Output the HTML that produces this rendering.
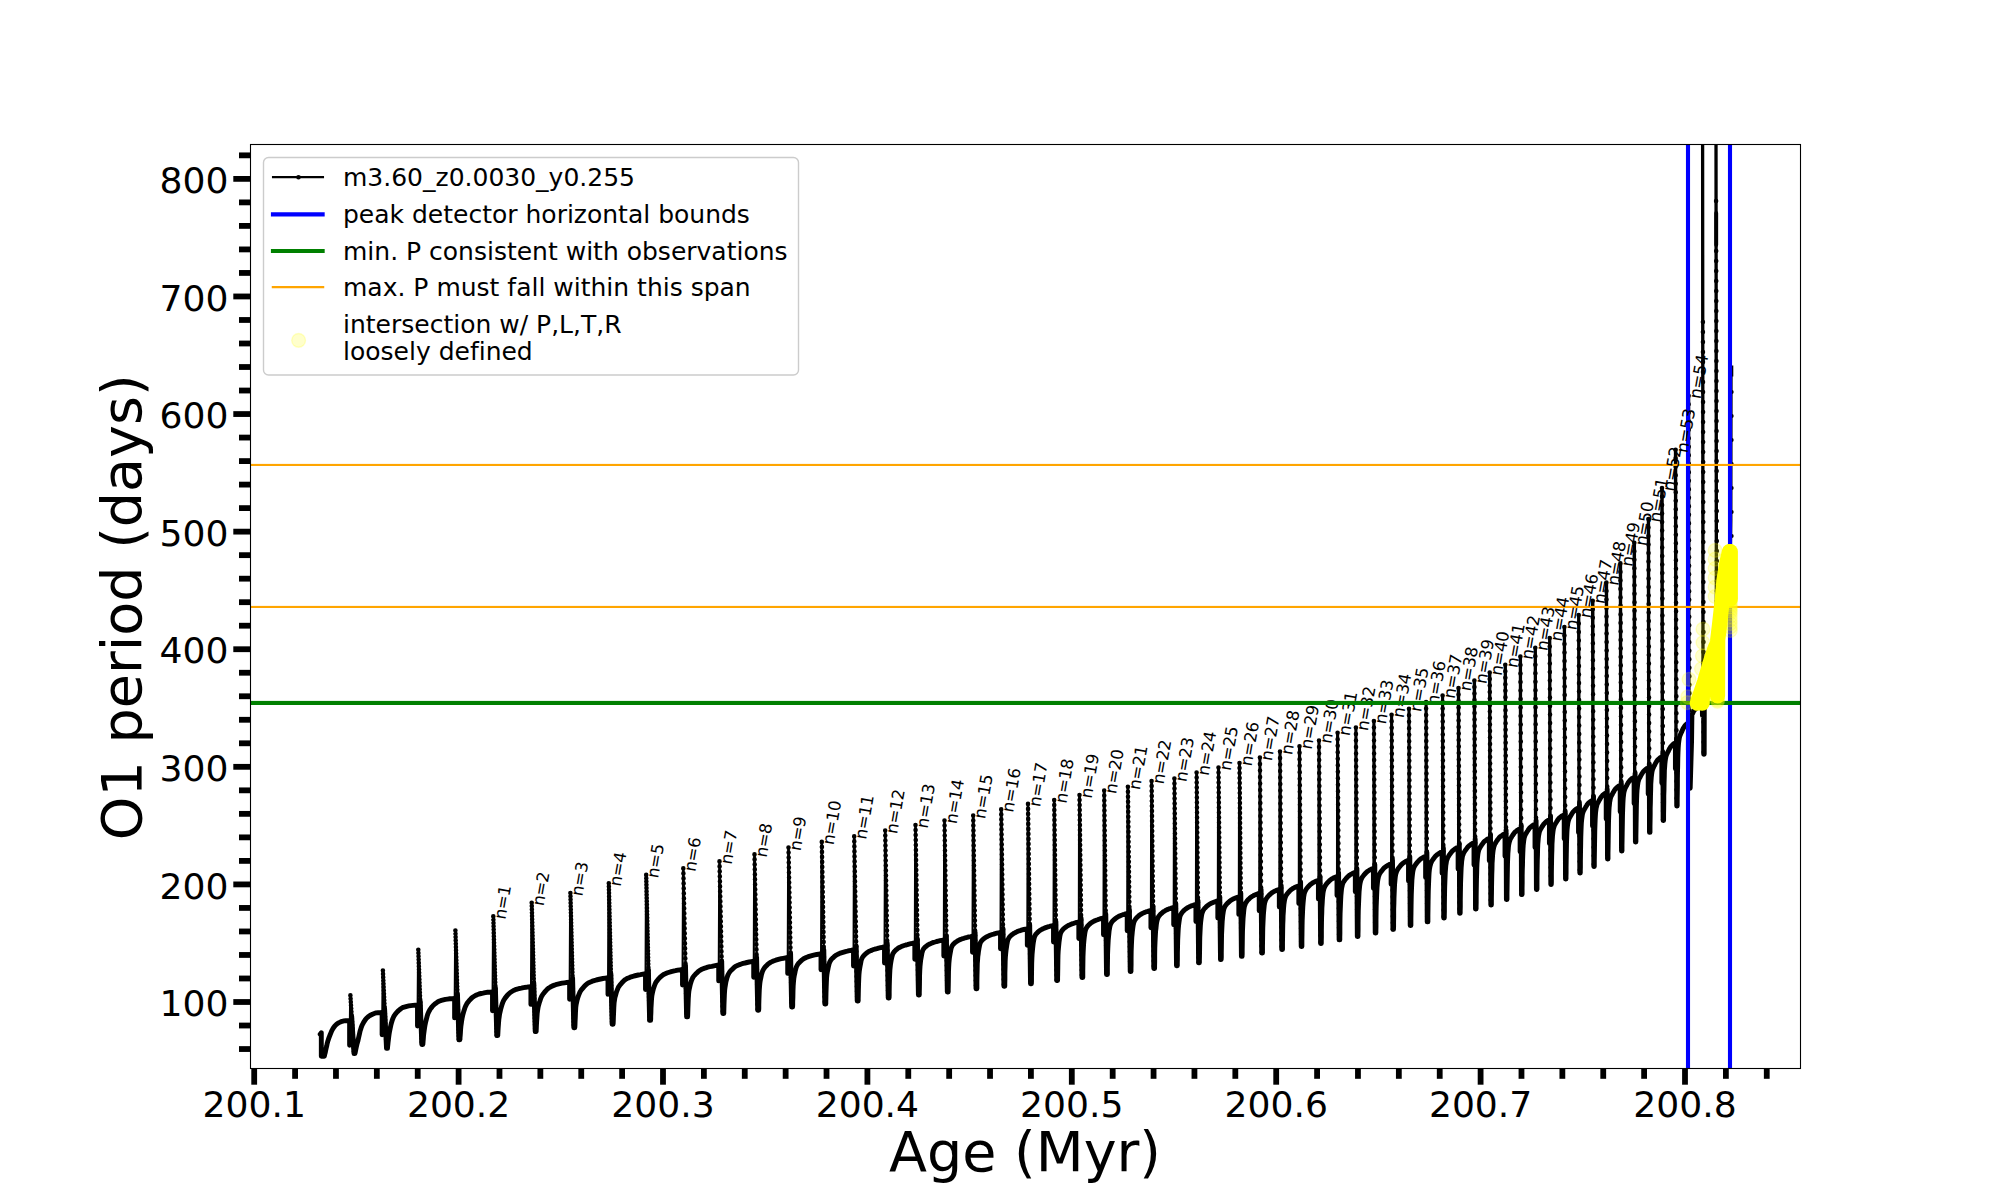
<!DOCTYPE html>
<html lang="en"><head><meta charset="utf-8"><title>O1 period vs Age</title>
<style>html,body{margin:0;padding:0;background:#fff}svg{display:block}text{font-variant-ligatures:none}</style></head>
<body>
<svg width="2000" height="1200" viewBox="0 0 2000 1200" font-family="'DejaVu Sans','Liberation Sans',sans-serif" fill="#000">
<rect width="2000" height="1200" fill="#fff"/>
<defs><clipPath id="ax"><rect x="250" y="144" width="1550" height="924"/></clipPath></defs>
<g clip-path="url(#ax)">
<path d="M320.2 1034.2 L321.3 1032.8 L321.3 1056.3 L324.3 1056.3 L324.3 1056.3 L324.3 1056.1 L324.4 1055.9 L324.5 1055.5 L324.6 1054.9 L324.8 1054.1 L325.1 1053 L325.4 1051.8 L325.7 1050.3 L326.1 1048.5 L326.6 1046.4 L327.1 1043.9 L327.7 1041.6 L328.4 1039.4 L329.1 1037.4 L329.9 1035.3 L330.8 1033.1 L331.7 1030.9 L332.8 1028.9 L333.9 1027.2 L335 1025.7 L336.3 1024.5 L337.7 1023.4 L339.1 1022.6 L340.6 1021.9 L342.2 1021.3 L343.9 1020.9 L345.7 1020.7 L347.6 1020.6 L349.6 1020.5 L349.6 1020.5 L349.6 1045.2 M351.7 1016.5 L354 1053.5 L355 1053.5 L355 1053.5 L355 1053.3 L355.1 1052.9 L355.2 1052.4 L355.4 1051.6 L355.6 1050.6 L355.8 1049.4 L356.1 1047.9 L356.5 1046.2 L356.9 1044.4 L357.4 1042.6 L358 1040.5 L358.6 1037.8 L359.4 1034.2 L360.1 1031 L361 1028.2 L361.9 1025.7 L363 1023.5 L364.1 1021.6 L365.2 1019.9 L366.5 1018.3 L367.9 1017 L369.3 1015.9 L370.9 1015 L372.5 1014.2 L374.2 1013.5 L376 1012.9 L378 1012.7 L380 1012.6 L382.1 1012.5 L382.1 1012.5 L382.1 1034.8 M384.6 1008.5 L386.5 1048.4 L387.5 1048.4 L387.5 1048.3 L387.5 1047.9 L387.6 1047.1 L387.7 1045.9 L387.9 1044.2 L388.1 1042.1 L388.4 1039.7 L388.7 1037.1 L389.1 1034.2 L389.6 1031.2 L390.2 1028.2 L390.8 1025.4 L391.5 1022.7 L392.3 1020 L393.2 1017.8 L394.1 1015.9 L395.2 1014.3 L396.3 1012.9 L397.5 1011.6 L398.8 1010.4 L400.2 1009.3 L401.7 1008.1 L403.3 1007.3 L405.1 1006.8 L406.9 1006.3 L408.8 1005.9 L410.8 1005.6 L412.9 1005.4 L415.2 1005.2 L417.5 1005.2 L417.5 1005.2 L417.5 1026 M420.2 1001.2 L421.8 1044.5 L422.8 1044.5 L422.8 1044.4 L422.9 1043.9 L423 1042.8 L423.1 1041.2 L423.3 1039 L423.5 1036.2 L423.8 1033.3 L424.2 1030.5 L424.6 1027.6 L425.1 1024.7 L425.7 1021.8 L426.4 1019.1 L427.1 1016.3 L427.9 1013.7 L428.9 1011.5 L429.9 1009.7 L431 1008.1 L432.2 1006.6 L433.5 1005.2 L434.8 1004 L436.3 1002.9 L437.9 1001.8 L439.6 1001 L441.4 1000.4 L443.4 999.9 L445.4 999.4 L447.5 999.1 L449.8 998.8 L452.1 998.6 L454.6 998.5 L454.6 998.5 L454.6 1017.9 M457.5 994.5 L458.9 1039.8 L459.9 1039.8 L459.9 1039.6 L460 1039 L460 1037.7 L460.2 1035.7 L460.4 1033 L460.6 1029.6 L460.9 1026.2 L461.3 1023.3 L461.7 1020.5 L462.2 1017.6 L462.8 1014.9 L463.5 1012.3 L464.3 1009.7 L465.1 1007.2 L466.1 1005.1 L467.1 1003.3 L468.3 1001.7 L469.5 1000.2 L470.8 998.9 L472.2 997.6 L473.8 996.5 L475.4 995.5 L477.1 994.7 L479 994 L481 993.5 L483 993.1 L485.2 992.6 L487.5 992.3 L490 992.1 L492.5 991.9 L492.5 991.9 L492.5 1010.7 M495.4 987.9 L496.8 1035.6 L497.8 1035.6 L497.8 1035.4 L497.8 1034.7 L497.9 1033.1 L498 1030.8 L498.2 1027.6 L498.5 1023.6 L498.8 1019.7 L499.2 1016.8 L499.6 1014 L500.2 1011.4 L500.8 1008.8 L501.5 1006.4 L502.2 1004 L503.1 1001.7 L504.1 999.7 L505.1 998.1 L506.3 996.6 L507.5 995.1 L508.9 993.8 L510.3 992.5 L511.9 991.5 L513.5 990.5 L515.3 989.7 L517.2 989.1 L519.2 988.5 L521.3 988.1 L523.5 987.6 L525.9 987.3 L528.3 986.9 L530.9 986.7 L530.9 986.7 L530.9 1004.4 M533.8 982.7 L535.2 1031.5 L536.2 1031.5 L536.2 1031.3 L536.2 1030.4 L536.3 1028.7 L536.4 1026 L536.6 1022.4 L536.9 1017.8 L537.2 1013.3 L537.6 1010.4 L538 1007.8 L538.5 1005.5 L539.2 1003.1 L539.9 1001 L540.6 998.7 L541.5 996.6 L542.5 994.9 L543.6 993.4 L544.7 992 L546 990.6 L547.3 989.2 L548.8 988 L550.4 987 L552 986.1 L553.8 985.4 L555.7 984.7 L557.8 984.2 L559.9 983.7 L562.1 983.2 L564.5 982.8 L567 982.4 L569.6 982.1 L569.6 982.1 L569.6 999.2 M572.6 978.1 L573.8 1027.7 L574.8 1027.7 L574.8 1027.5 L574.9 1026.5 L575 1024.5 L575.1 1021.4 L575.3 1017.4 L575.5 1012.1 L575.8 1007.3 L576.2 1004.3 L576.7 1001.9 L577.2 999.8 L577.8 997.6 L578.5 995.7 L579.3 993.7 L580.1 991.8 L581.1 990.2 L582.2 988.9 L583.3 987.6 L584.5 986.2 L585.9 984.8 L587.3 983.6 L588.9 982.7 L590.6 981.9 L592.3 981.2 L594.2 980.6 L596.2 980 L598.3 979.5 L600.6 979 L602.9 978.5 L605.4 978.1 L608 977.7 L608 977.7 L608 994.4 M610.9 973.7 L612.1 1024.2 L613.1 1024.2 L613.1 1023.9 L613.2 1022.9 L613.3 1020.7 L613.4 1017.3 L613.6 1013 L613.8 1007.8 L614.1 1003 L614.5 1000.1 L614.9 997.6 L615.5 995.5 L616.1 993.3 L616.7 991.3 L617.5 989.3 L618.3 987.4 L619.3 985.9 L620.3 984.6 L621.4 983.3 L622.6 982 L623.9 980.7 L625.4 979.5 L626.9 978.6 L628.5 977.9 L630.2 977.2 L632.1 976.6 L634 976 L636.1 975.5 L638.3 975 L640.5 974.6 L642.9 974.1 L645.5 973.8 L645.5 973.8 L645.5 989.6 M648.4 969.8 L649.6 1020.4 L650.6 1020.4 L650.6 1020.1 L650.7 1019 L650.7 1016.6 L650.9 1012.9 L651 1008.2 L651.3 1003.1 L651.6 998.4 L651.9 995.5 L652.4 993 L652.9 990.8 L653.5 988.5 L654.2 986.5 L654.9 984.5 L655.7 982.7 L656.7 981.2 L657.7 979.9 L658.8 978.7 L660 977.4 L661.3 976.2 L662.7 975.1 L664.2 974.2 L665.8 973.5 L667.5 972.8 L669.3 972.2 L671.2 971.6 L673.3 971.1 L675.4 970.7 L677.7 970.2 L680 969.8 L682.5 969.4 L682.5 969.4 L682.5 985.1 M685.5 965.4 L686.6 1016.9 L687.6 1016.9 L687.6 1016.6 L687.7 1015.3 L687.8 1012.7 L687.9 1008.7 L688.1 1003.7 L688.3 998.5 L688.6 994 L688.9 991 L689.4 988.4 L689.9 986.2 L690.4 983.9 L691.1 981.7 L691.8 979.7 L692.6 977.9 L693.5 976.5 L694.5 975.3 L695.6 974.1 L696.8 972.9 L698 971.7 L699.4 970.6 L700.8 969.8 L702.4 969 L704.1 968.4 L705.8 967.8 L707.7 967.2 L709.7 966.7 L711.8 966.3 L714 965.8 L716.3 965.4 L718.7 965 L718.7 965 L718.7 980.9 M721.7 961 L722.8 1013.5 L723.8 1013.5 L723.8 1013.2 L723.8 1011.8 L723.9 1009 L724 1004.7 L724.2 999.4 L724.4 994.3 L724.7 989.9 L725.1 986.8 L725.5 984.3 L725.9 982 L726.5 979.6 L727.1 977.4 L727.8 975.4 L728.6 973.7 L729.5 972.3 L730.4 971.1 L731.5 970 L732.6 968.9 L733.8 967.7 L735.1 966.7 L736.5 965.9 L738 965.2 L739.6 964.6 L741.3 964 L743.1 963.4 L745 963 L747 962.5 L749.2 962 L751.4 961.6 L753.7 961.2 L753.7 961.2 L753.7 977.2 M756.6 957.2 L757.7 1010.3 L758.7 1010.3 L758.7 1010 L758.8 1008.5 L758.8 1005.5 L758.9 1000.9 L759.1 995.2 L759.3 990.1 L759.6 985.9 L759.9 982.8 L760.3 980.2 L760.8 977.9 L761.3 975.5 L761.9 973.2 L762.6 971.1 L763.4 969.5 L764.2 968.2 L765.1 967 L766.1 966 L767.2 964.9 L768.4 963.8 L769.7 962.9 L771 962.1 L772.5 961.4 L774.1 960.8 L775.7 960.2 L777.5 959.7 L779.3 959.2 L781.3 958.7 L783.3 958.3 L785.5 957.9 L787.7 957.5 L787.7 957.5 L787.7 973.4 M790.6 953.5 L791.6 1007 L792.6 1007 L792.6 1006.6 L792.7 1005.1 L792.7 1001.9 L792.9 996.9 L793 990.9 L793.2 985.9 L793.5 981.8 L793.8 978.7 L794.2 976.1 L794.7 973.8 L795.2 971.2 L795.8 968.9 L796.4 966.8 L797.2 965.3 L798 964 L798.9 962.9 L799.9 961.9 L801 960.9 L802.1 959.9 L803.3 959 L804.7 958.2 L806.1 957.5 L807.6 956.9 L809.2 956.4 L810.9 955.9 L812.7 955.4 L814.7 954.9 L816.7 954.5 L818.8 954.1 L821 953.8 L821 953.8 L821 969.8 M823.8 949.8 L824.8 1004 L825.8 1004 L825.8 1003.6 L825.8 1002 L825.9 998.5 L826 993.2 L826.2 986.8 L826.4 981.8 L826.6 977.8 L826.9 974.7 L827.3 972.1 L827.8 969.7 L828.3 967.1 L828.9 964.6 L829.5 962.6 L830.2 961.1 L831 959.9 L831.9 958.8 L832.9 957.9 L833.9 956.9 L835 956 L836.3 955.1 L837.6 954.4 L839 953.7 L840.4 953.1 L842 952.6 L843.7 952.1 L845.4 951.6 L847.3 951.2 L849.3 950.7 L851.3 950.3 L853.5 950 L853.5 950 L853.5 966.1 M856.2 946 L857.2 1001 L858.2 1001 L858.2 1000.6 L858.2 998.9 L858.3 995.3 L858.4 989.6 L858.6 982.9 L858.8 978 L859 974.2 L859.3 971.1 L859.7 968.5 L860.1 966.1 L860.6 963.5 L861.1 960.9 L861.7 958.9 L862.4 957.5 L863.2 956.3 L864 955.4 L864.9 954.5 L865.9 953.6 L867 952.7 L868.1 951.9 L869.4 951.2 L870.7 950.6 L872.1 950.1 L873.6 949.5 L875.2 949 L876.9 948.6 L878.6 948.1 L880.5 947.7 L882.4 947.3 L884.5 947 L884.5 947 L884.5 963 M887.2 943 L888.2 998 L889.1 998 L889.1 997.6 L889.2 995.7 L889.2 991.9 L889.3 985.8 L889.5 978.7 L889.7 973.8 L889.9 970.1 L890.2 967 L890.5 964.3 L890.9 961.9 L891.4 959.1 L892 956.5 L892.6 954.4 L893.2 953.1 L894 952 L894.8 951.1 L895.7 950.2 L896.6 949.4 L897.7 948.6 L898.8 947.8 L900 947.2 L901.3 946.6 L902.7 946 L904.1 945.5 L905.7 945 L907.3 944.6 L909 944.1 L910.8 943.7 L912.7 943.3 L914.8 943 L914.8 943 L914.8 959.2 M917.4 939 L918.4 995 L919.3 995 L919.3 994.6 L919.3 992.6 L919.4 988.6 L919.5 982.3 L919.6 974.8 L919.8 970 L920 966.5 L920.3 963.4 L920.6 960.7 L921 958.3 L921.5 955.5 L922 952.8 L922.6 950.8 L923.2 949.5 L923.9 948.4 L924.7 947.6 L925.5 946.8 L926.5 946 L927.5 945.3 L928.5 944.6 L929.7 944 L930.9 943.5 L932.2 942.9 L933.6 942.4 L935.1 942 L936.6 941.5 L938.3 941.1 L940 940.7 L941.8 940.3 L943.8 940 L943.8 940 L943.8 956 M946.4 936 L947.3 992 L948.2 992 L948.2 991.5 L948.2 989.6 L948.3 985.5 L948.4 979.2 L948.5 971.7 L948.7 966.9 L948.9 963.3 L949.2 960.1 L949.5 957.3 L949.9 954.8 L950.4 952 L950.9 949.3 L951.5 947.2 L952.1 945.9 L952.8 944.9 L953.6 944 L954.4 943.2 L955.3 942.4 L956.3 941.7 L957.4 941 L958.5 940.4 L959.7 939.8 L961 939.2 L962.4 938.7 L963.9 938.3 L965.4 937.8 L967.1 937.4 L968.8 936.9 L970.6 936.6 L972.5 936.2 L972.5 936.2 L972.5 952.3 M975.1 932.2 L976 988.8 L976.9 988.8 L976.9 988.3 L976.9 986.3 L976.9 982.3 L977 976 L977.2 968.5 L977.3 963.6 L977.6 960 L977.8 956.7 L978.2 953.8 L978.5 951.3 L979 948.4 L979.5 945.7 L980 943.6 L980.6 942.3 L981.3 941.2 L982.1 940.3 L982.9 939.5 L983.8 938.7 L984.8 938 L985.8 937.3 L986.9 936.7 L988.1 936.1 L989.4 935.5 L990.7 935 L992.1 934.5 L993.6 934.1 L995.2 933.6 L996.9 933.2 L998.7 932.8 L1000.5 932.5 L1000.5 932.5 L1000.5 948.8 M1003 928.5 L1003.9 986.2 L1004.8 986.2 L1004.8 985.8 L1004.8 983.8 L1004.9 979.7 L1004.9 973.3 L1005.1 965.7 L1005.2 960.8 L1005.4 957.1 L1005.7 953.6 L1006 950.7 L1006.4 948 L1006.8 945.1 L1007.3 942.3 L1007.8 940.2 L1008.4 938.8 L1009 937.7 L1009.7 936.8 L1010.5 936 L1011.4 935.2 L1012.3 934.4 L1013.3 933.7 L1014.3 933.1 L1015.5 932.5 L1016.7 931.9 L1017.9 931.3 L1019.3 930.8 L1020.7 930.4 L1022.2 929.9 L1023.8 929.5 L1025.5 929.1 L1027.3 928.8 L1027.3 928.8 L1027.3 945.2 M1029.7 924.8 L1030.5 983.8 L1031.4 983.8 L1031.4 983.3 L1031.5 981.3 L1031.5 977.2 L1031.6 970.8 L1031.7 963.2 L1031.9 958.2 L1032.1 954.4 L1032.4 950.8 L1032.7 947.8 L1033 945 L1033.4 942 L1033.9 939.3 L1034.4 937.1 L1035 935.8 L1035.6 934.6 L1036.3 933.7 L1037.1 932.9 L1037.9 932.1 L1038.8 931.3 L1039.8 930.6 L1040.8 929.9 L1041.9 929.3 L1043.1 928.7 L1044.4 928.1 L1045.7 927.6 L1047.1 927.1 L1048.6 926.7 L1050.1 926.2 L1051.8 925.8 L1053.5 925.5 L1053.5 925.5 L1053.5 942 M1055.9 921.5 L1056.7 980.5 L1057.6 980.5 L1057.6 980 L1057.6 978.1 L1057.7 974 L1057.8 967.6 L1057.9 960 L1058 955 L1058.2 951.2 L1058.5 947.6 L1058.8 944.5 L1059.1 941.6 L1059.5 938.7 L1059.9 935.9 L1060.4 933.7 L1061 932.3 L1061.6 931.2 L1062.3 930.3 L1063 929.4 L1063.8 928.6 L1064.7 927.9 L1065.6 927.2 L1066.6 926.5 L1067.7 925.8 L1068.8 925.2 L1070 924.7 L1071.3 924.1 L1072.6 923.7 L1074 923.2 L1075.5 922.7 L1077.1 922.3 L1078.8 922 L1078.8 922 L1078.8 938.6 M1081.1 918 L1081.9 977.5 L1082.8 977.5 L1082.8 977 L1082.8 975.1 L1082.8 970.9 L1082.9 964.5 L1083 956.9 L1083.2 951.8 L1083.4 947.9 L1083.6 944.2 L1083.9 940.9 L1084.2 938 L1084.6 935 L1085 932.2 L1085.5 930 L1086.1 928.6 L1086.7 927.4 L1087.3 926.5 L1088.1 925.6 L1088.8 924.8 L1089.7 924 L1090.6 923.3 L1091.6 922.6 L1092.6 921.9 L1093.7 921.3 L1094.9 920.7 L1096.1 920.2 L1097.5 919.7 L1098.8 919.2 L1100.3 918.7 L1101.9 918.3 L1103.5 918 L1103.5 918 L1103.5 934.8 M1105.8 914 L1106.5 974.5 L1107.4 974.5 L1107.4 974 L1107.4 972 L1107.4 967.8 L1107.5 961.3 L1107.6 953.6 L1107.8 948.4 L1108 944.3 L1108.2 940.5 L1108.5 937.1 L1108.8 934 L1109.1 930.9 L1109.6 928.1 L1110 925.9 L1110.5 924.4 L1111.1 923.2 L1111.7 922.2 L1112.4 921.3 L1113.2 920.5 L1114 919.7 L1114.9 919 L1115.8 918.3 L1116.8 917.6 L1117.8 916.9 L1119 916.3 L1120.2 915.7 L1121.4 915.2 L1122.8 914.7 L1124.2 914.3 L1125.6 913.8 L1127.2 913.5 L1127.2 913.5 L1127.2 930.7 M1129.4 909.5 L1130.2 971.5 L1131 971.5 L1131 971 L1131 969 L1131.1 964.9 L1131.1 958.5 L1131.2 950.8 L1131.4 945.6 L1131.6 941.5 L1131.8 937.6 L1132.1 934.2 L1132.4 931.1 L1132.8 928 L1133.2 925.1 L1133.7 922.9 L1134.2 921.5 L1134.7 920.3 L1135.4 919.3 L1136.1 918.4 L1136.8 917.5 L1137.6 916.8 L1138.5 916 L1139.4 915.3 L1140.4 914.6 L1141.5 913.9 L1142.6 913.3 L1143.8 912.8 L1145.1 912.2 L1146.4 911.7 L1147.8 911.3 L1149.3 910.8 L1150.9 910.5 L1150.9 910.5 L1150.9 927.7 M1153.1 906.5 L1153.8 968.5 L1154.6 968.5 L1154.6 968 L1154.6 966.1 L1154.7 962 L1154.7 955.6 L1154.8 948 L1155 942.8 L1155.2 938.7 L1155.4 934.8 L1155.6 931.3 L1156 928.1 L1156.3 925 L1156.7 922.2 L1157.2 920 L1157.7 918.5 L1158.2 917.3 L1158.8 916.3 L1159.5 915.4 L1160.2 914.6 L1161 913.8 L1161.8 913.1 L1162.7 912.3 L1163.7 911.6 L1164.7 911 L1165.8 910.3 L1166.9 909.8 L1168.1 909.2 L1169.4 908.7 L1170.8 908.3 L1172.2 907.8 L1173.7 907.5 L1173.7 907.5 L1173.7 924.7 M1175.8 903.5 L1176.5 965.7 L1177.3 965.7 L1177.3 965.2 L1177.3 963.3 L1177.4 959.2 L1177.4 952.9 L1177.6 945.3 L1177.7 940.2 L1177.9 936 L1178.1 932 L1178.3 928.4 L1178.6 925.2 L1179 922.1 L1179.4 919.3 L1179.8 917.1 L1180.3 915.6 L1180.8 914.4 L1181.4 913.4 L1182.1 912.5 L1182.8 911.7 L1183.5 910.9 L1184.3 910.1 L1185.2 909.4 L1186.1 908.7 L1187.1 908 L1188.2 907.4 L1189.3 906.8 L1190.5 906.3 L1191.7 905.7 L1193.1 905.3 L1194.4 904.8 L1195.9 904.5 L1195.9 904.5 L1195.9 921.6 M1198 900.5 L1198.6 962.8 L1199.4 962.8 L1199.4 962.3 L1199.4 960.4 L1199.5 956.3 L1199.6 950 L1199.7 942.4 L1199.8 937.2 L1200 933 L1200.2 928.9 L1200.4 925.2 L1200.7 921.9 L1201.1 918.8 L1201.5 915.9 L1201.9 913.7 L1202.4 912.2 L1202.9 911 L1203.5 909.9 L1204.1 909 L1204.8 908.2 L1205.6 907.4 L1206.4 906.6 L1207.2 905.9 L1208.1 905.2 L1209.1 904.5 L1210.2 903.8 L1211.3 903.2 L1212.5 902.7 L1213.7 902.2 L1215 901.7 L1216.4 901.2 L1217.8 900.9 L1217.8 900.9 L1217.8 918.1 M1219.8 896.9 L1220.5 959.6 L1221.2 959.6 L1221.2 959.1 L1221.3 957.2 L1221.3 953.1 L1221.4 946.8 L1221.5 939.2 L1221.6 933.9 L1221.8 929.6 L1222 925.4 L1222.2 921.6 L1222.5 918.3 L1222.8 915.1 L1223.2 912.3 L1223.6 910 L1224 908.5 L1224.6 907.2 L1225.1 906.2 L1225.7 905.3 L1226.4 904.4 L1227.1 903.6 L1227.9 902.9 L1228.7 902.1 L1229.6 901.3 L1230.5 900.6 L1231.5 899.9 L1232.6 899.3 L1233.7 898.8 L1234.9 898.3 L1236.1 897.8 L1237.4 897.3 L1238.8 897 L1238.8 897 L1238.8 914.4 M1240.8 893 L1241.4 956.4 L1242.1 956.4 L1242.1 955.9 L1242.2 954 L1242.2 949.9 L1242.3 943.6 L1242.4 936.1 L1242.5 930.8 L1242.7 926.4 L1242.9 922.2 L1243.1 918.3 L1243.4 914.8 L1243.7 911.6 L1244 908.8 L1244.4 906.6 L1244.9 905 L1245.4 903.7 L1245.9 902.7 L1246.5 901.8 L1247.1 900.9 L1247.8 900.1 L1248.6 899.3 L1249.4 898.6 L1250.2 897.8 L1251.2 897.1 L1252.1 896.4 L1253.2 895.8 L1254.2 895.2 L1255.4 894.7 L1256.6 894.2 L1257.9 893.7 L1259.2 893.4 L1259.2 893.4 L1259.2 910.8 M1261.1 889.4 L1261.7 953 L1262.5 953 L1262.5 952.6 L1262.5 950.6 L1262.5 946.6 L1262.6 940.3 L1262.7 932.7 L1262.8 927.4 L1263 923 L1263.2 918.6 L1263.4 914.7 L1263.7 911.1 L1264 907.9 L1264.3 905.1 L1264.7 902.8 L1265.2 901.2 L1265.6 900 L1266.2 898.9 L1266.8 898 L1267.4 897.1 L1268.1 896.3 L1268.8 895.5 L1269.6 894.7 L1270.5 894 L1271.4 893.2 L1272.3 892.5 L1273.3 891.9 L1274.4 891.3 L1275.6 890.8 L1276.7 890.3 L1278 889.8 L1279.3 889.5 L1279.3 889.5 L1279.3 907 M1281.2 885.5 L1281.7 949.5 L1282.5 949.5 L1282.5 949.1 L1282.5 947.1 L1282.5 943.1 L1282.6 936.9 L1282.7 929.5 L1282.8 924.2 L1283 919.7 L1283.1 915.3 L1283.4 911.3 L1283.6 907.7 L1283.9 904.5 L1284.3 901.7 L1284.7 899.4 L1285.1 897.8 L1285.6 896.5 L1286.1 895.5 L1286.7 894.5 L1287.3 893.7 L1287.9 892.9 L1288.7 892.1 L1289.4 891.3 L1290.2 890.5 L1291.1 889.7 L1292.1 889 L1293 888.4 L1294.1 887.8 L1295.2 887.3 L1296.3 886.8 L1297.6 886.3 L1298.8 886 L1298.8 886 L1298.8 903.5 M1300.6 882 L1301.2 946.5 L1301.9 946.5 L1301.9 946 L1301.9 944.1 L1301.9 940 L1302 933.6 L1302.1 925.9 L1302.2 920.4 L1302.4 915.7 L1302.6 911.1 L1302.8 906.9 L1303.1 903.1 L1303.4 899.7 L1303.7 896.8 L1304.1 894.5 L1304.5 892.8 L1305 891.5 L1305.5 890.4 L1306.1 889.4 L1306.7 888.5 L1307.4 887.7 L1308.1 886.9 L1308.9 886 L1309.7 885.2 L1310.6 884.4 L1311.5 883.7 L1312.5 883 L1313.6 882.4 L1314.7 881.8 L1315.9 881.3 L1317.1 880.8 L1318.4 880.5 L1318.4 880.5 L1318.4 899 M1320.1 876.5 L1320.6 943.5 L1321.3 943.5 L1321.3 943 L1321.3 941.1 L1321.4 936.9 L1321.4 930.5 L1321.5 922.8 L1321.6 917.3 L1321.8 912.5 L1321.9 907.8 L1322.2 903.4 L1322.4 899.5 L1322.7 896.1 L1323 893.2 L1323.4 890.9 L1323.8 889.2 L1324.3 887.8 L1324.8 886.7 L1325.3 885.7 L1325.9 884.8 L1326.5 883.9 L1327.2 883.1 L1328 882.3 L1328.8 881.4 L1329.6 880.6 L1330.5 879.8 L1331.4 879.2 L1332.4 878.6 L1333.5 878 L1334.6 877.4 L1335.8 876.9 L1337 876.6 L1337 876.6 L1337 895.5 M1338.6 872.6 L1339.1 939.9 L1339.8 939.9 L1339.8 939.4 L1339.8 937.5 L1339.9 933.4 L1339.9 927 L1340 919.3 L1340.1 913.7 L1340.3 908.9 L1340.5 904 L1340.7 899.5 L1340.9 895.6 L1341.2 892.2 L1341.5 889.2 L1341.9 886.9 L1342.3 885.1 L1342.7 883.7 L1343.2 882.6 L1343.8 881.6 L1344.4 880.7 L1345 879.8 L1345.7 879 L1346.4 878.2 L1347.2 877.3 L1348 876.5 L1348.9 875.7 L1349.8 875 L1350.8 874.4 L1351.9 873.8 L1353 873.2 L1354.1 872.7 L1355.3 872.4 L1355.3 872.4 L1355.3 891.8 M1356.9 868.4 L1357.3 936.6 L1358 936.6 L1358 936.1 L1358 934.2 L1358.1 930.1 L1358.1 923.7 L1358.2 916 L1358.3 910.4 L1358.5 905.5 L1358.7 900.6 L1358.9 896 L1359.1 891.9 L1359.4 888.5 L1359.7 885.5 L1360.1 883.1 L1360.5 881.4 L1360.9 880 L1361.4 878.9 L1361.9 877.8 L1362.5 876.9 L1363.1 876.1 L1363.8 875.2 L1364.5 874.4 L1365.3 873.5 L1366.1 872.6 L1367 871.8 L1367.9 871.1 L1368.9 870.5 L1369.9 869.9 L1371 869.3 L1372.2 868.8 L1373.4 868.5 L1373.4 868.5 L1373.4 888.3 M1374.8 864.5 L1375.2 933 L1375.9 933 L1375.9 932.5 L1375.9 930.6 L1376 926.5 L1376 920.1 L1376.1 912.4 L1376.2 906.8 L1376.4 901.7 L1376.6 896.7 L1376.8 891.9 L1377 887.8 L1377.3 884.3 L1377.6 881.3 L1378 878.9 L1378.4 877.1 L1378.8 875.7 L1379.3 874.5 L1379.8 873.5 L1380.4 872.6 L1381 871.7 L1381.7 870.9 L1382.4 870 L1383.1 869.1 L1383.9 868.2 L1384.8 867.4 L1385.7 866.7 L1386.7 866 L1387.7 865.4 L1388.8 864.8 L1389.9 864.3 L1391.1 864 L1391.1 864 L1391.1 884.3 M1392.5 860 L1392.9 929.4 L1393.5 929.4 L1393.5 928.9 L1393.6 927 L1393.6 923 L1393.7 916.6 L1393.7 909 L1393.9 903.4 L1394 898.3 L1394.2 893.2 L1394.4 888.4 L1394.6 884.2 L1394.9 880.7 L1395.2 877.8 L1395.5 875.4 L1395.9 873.6 L1396.4 872.2 L1396.8 871 L1397.4 870 L1397.9 869 L1398.5 868.2 L1399.2 867.3 L1399.9 866.4 L1400.6 865.5 L1401.4 864.6 L1402.3 863.8 L1403.2 863.1 L1404.2 862.4 L1405.2 861.8 L1406.2 861.2 L1407.3 860.7 L1408.5 860.4 L1408.5 860.4 L1408.5 880.9 M1409.8 856.4 L1410.2 925.5 L1410.9 925.5 L1410.9 925.1 L1410.9 923.1 L1410.9 919.1 L1411 912.9 L1411.1 905.4 L1411.2 899.8 L1411.3 894.6 L1411.5 889.5 L1411.7 884.6 L1411.9 880.4 L1412.2 876.9 L1412.5 874 L1412.8 871.6 L1413.2 869.8 L1413.6 868.3 L1414.1 867.1 L1414.6 866.1 L1415.2 865.2 L1415.8 864.3 L1416.4 863.5 L1417.1 862.6 L1417.9 861.7 L1418.7 860.8 L1419.5 859.9 L1420.4 859.2 L1421.3 858.5 L1422.3 857.9 L1423.4 857.3 L1424.5 856.8 L1425.6 856.5 L1425.6 856.5 L1425.6 877.4 M1426.9 852.5 L1427.2 921.9 L1427.9 921.9 L1427.9 921.5 L1427.9 919.5 L1427.9 915.5 L1428 909.3 L1428.1 901.8 L1428.2 896.1 L1428.3 890.9 L1428.5 885.6 L1428.7 880.6 L1428.9 876.2 L1429.1 872.7 L1429.4 869.7 L1429.8 867.3 L1430.2 865.5 L1430.6 864 L1431 862.8 L1431.5 861.8 L1432.1 860.8 L1432.6 860 L1433.3 859.1 L1433.9 858.2 L1434.6 857.3 L1435.4 856.3 L1436.2 855.5 L1437.1 854.7 L1438 854.1 L1439 853.4 L1440 852.8 L1441 852.3 L1442.1 852 L1442.1 852 L1442.1 873.3 M1443.4 848 L1443.7 918 L1444.3 918 L1444.3 917.6 L1444.3 915.6 L1444.4 911.7 L1444.4 905.4 L1444.5 897.9 L1444.6 892.2 L1444.7 886.9 L1444.9 881.5 L1445.1 876.4 L1445.3 872 L1445.6 868.4 L1445.8 865.5 L1446.2 863 L1446.5 861.2 L1446.9 859.7 L1447.4 858.5 L1447.8 857.4 L1448.4 856.5 L1448.9 855.6 L1449.5 854.7 L1450.2 853.8 L1450.9 852.8 L1451.6 851.9 L1452.4 851 L1453.2 850.3 L1454.1 849.6 L1455 848.9 L1456 848.3 L1457 847.8 L1458.1 847.5 L1458.1 847.5 L1458.1 869 M1459.3 843.5 L1459.6 913.3 L1460.2 913.3 L1460.2 912.9 L1460.2 911 L1460.3 907 L1460.3 900.9 L1460.4 893.5 L1460.5 887.9 L1460.6 882.5 L1460.8 877.1 L1461 872 L1461.2 867.4 L1461.5 863.9 L1461.7 861 L1462.1 858.6 L1462.4 856.7 L1462.8 855.2 L1463.3 854 L1463.7 852.9 L1464.3 852 L1464.8 851.1 L1465.4 850.3 L1466.1 849.3 L1466.8 848.4 L1467.5 847.4 L1468.3 846.5 L1469.1 845.8 L1470 845.1 L1470.9 844.4 L1471.9 843.8 L1472.9 843.3 L1474 843 L1474 843 L1474 864.9 M1475.2 839 L1475.5 909 L1476.1 909 L1476.1 908.6 L1476.1 906.7 L1476.2 902.8 L1476.2 896.7 L1476.3 889.4 L1476.4 883.7 L1476.5 878.4 L1476.7 872.9 L1476.8 867.6 L1477 863.1 L1477.3 859.5 L1477.6 856.6 L1477.9 854.2 L1478.2 852.3 L1478.6 850.8 L1479 849.6 L1479.5 848.5 L1480 847.6 L1480.5 846.7 L1481.1 845.8 L1481.7 844.9 L1482.4 843.9 L1483.1 843 L1483.8 842.1 L1484.6 841.3 L1485.5 840.6 L1486.4 839.9 L1487.3 839.3 L1488.3 838.8 L1489.3 838.5 L1489.3 838.5 L1489.3 860.8 M1490.5 834.5 L1490.8 905 L1491.4 905 L1491.4 904.6 L1491.4 902.7 L1491.4 898.8 L1491.5 892.8 L1491.6 885.5 L1491.7 879.8 L1491.8 874.4 L1492 868.8 L1492.1 863.4 L1492.4 858.8 L1492.6 855.2 L1492.9 852.3 L1493.2 849.9 L1493.6 848 L1494 846.4 L1494.4 845.2 L1494.9 844.1 L1495.4 843.2 L1495.9 842.3 L1496.5 841.4 L1497.1 840.5 L1497.8 839.5 L1498.6 838.5 L1499.3 837.6 L1500.1 836.8 L1501 836.1 L1501.9 835.5 L1502.9 834.8 L1503.9 834.3 L1505 834 L1505 834 L1505 856.3 M1506.1 830 L1506.4 899.5 L1507 899.5 L1507 899.1 L1507 897.2 L1507 893.5 L1507.1 887.6 L1507.2 880.4 L1507.3 874.8 L1507.4 869.3 L1507.5 863.7 L1507.7 858.3 L1507.9 853.6 L1508.2 850.1 L1508.4 847.2 L1508.7 844.8 L1509.1 842.9 L1509.5 841.4 L1509.9 840.2 L1510.3 839.1 L1510.8 838.2 L1511.4 837.3 L1511.9 836.4 L1512.5 835.5 L1513.2 834.5 L1513.9 833.5 L1514.6 832.6 L1515.4 831.8 L1516.3 831.1 L1517.1 830.4 L1518.1 829.8 L1519.1 829.3 L1520.1 829 L1520.1 829 L1520.1 851.8 M1521.2 825 L1521.5 894.5 L1522.1 894.5 L1522.1 894.1 L1522.1 892.3 L1522.1 888.6 L1522.2 882.8 L1522.2 875.8 L1522.3 870.2 L1522.5 864.8 L1522.6 859.1 L1522.8 853.7 L1523 849 L1523.2 845.5 L1523.5 842.7 L1523.8 840.3 L1524.1 838.4 L1524.5 836.9 L1524.9 835.7 L1525.4 834.6 L1525.9 833.7 L1526.4 832.8 L1527 831.9 L1527.6 831 L1528.2 830 L1528.9 829 L1529.6 828.1 L1530.4 827.3 L1531.2 826.6 L1532.1 825.9 L1533 825.3 L1534 824.8 L1535 824.5 L1535 824.5 L1535 847.6 M1536.1 820.5 L1536.4 889.5 L1536.9 889.5 L1537 889.1 L1537 887.3 L1537 883.7 L1537 878 L1537.1 871.1 L1537.2 865.6 L1537.3 860.2 L1537.5 854.6 L1537.6 849.1 L1537.8 844.4 L1538.1 840.9 L1538.3 838.1 L1538.6 835.7 L1539 833.8 L1539.3 832.3 L1539.7 831.1 L1540.1 830.1 L1540.6 829.1 L1541.1 828.3 L1541.7 827.4 L1542.2 826.5 L1542.9 825.5 L1543.5 824.5 L1544.3 823.6 L1545 822.8 L1545.8 822.1 L1546.6 821.4 L1547.5 820.8 L1548.5 820.3 L1549.4 820 L1549.4 820 L1549.4 843.4 M1550.5 816 L1550.8 884.5 L1551.3 884.5 L1551.3 884.1 L1551.4 882.4 L1551.4 878.8 L1551.4 873.2 L1551.5 866.4 L1551.6 860.9 L1551.7 855.4 L1551.9 849.7 L1552 844.2 L1552.3 839.4 L1552.5 835.9 L1552.8 833.2 L1553.1 830.8 L1553.4 828.9 L1553.8 827.4 L1554.2 826.2 L1554.6 825.1 L1555.1 824.2 L1555.6 823.4 L1556.2 822.5 L1556.8 821.5 L1557.4 820.5 L1558.1 819.5 L1558.8 818.6 L1559.6 817.8 L1560.4 817.1 L1561.3 816.4 L1562.2 815.8 L1563.1 815.3 L1564.2 815 L1564.2 815 L1564.2 838.7 M1565.2 811 L1565.5 879 L1566 879 L1566 878.6 L1566 876.8 L1566.1 873.2 L1566.1 867.6 L1566.2 860.7 L1566.3 855.1 L1566.4 849.5 L1566.5 843.6 L1566.7 837.9 L1566.9 833 L1567.1 829.4 L1567.4 826.6 L1567.7 824.2 L1568 822.3 L1568.4 820.7 L1568.8 819.5 L1569.2 818.4 L1569.7 817.4 L1570.2 816.6 L1570.7 815.7 L1571.3 814.7 L1571.9 813.7 L1572.6 812.7 L1573.3 811.7 L1574.1 810.9 L1574.9 810.1 L1575.7 809.5 L1576.6 808.8 L1577.5 808.3 L1578.5 808 L1578.5 808 L1578.5 832.5 M1579.5 804 L1579.8 873 L1580.3 873 L1580.3 872.6 L1580.3 870.8 L1580.4 867.2 L1580.4 861.5 L1580.5 854.6 L1580.6 848.9 L1580.7 843.1 L1580.8 837.1 L1581 831.2 L1581.2 826.1 L1581.4 822.4 L1581.7 819.6 L1582 817.1 L1582.3 815.1 L1582.6 813.6 L1583 812.3 L1583.4 811.2 L1583.9 810.2 L1584.4 809.3 L1584.9 808.4 L1585.5 807.4 L1586.1 806.3 L1586.8 805.3 L1587.4 804.3 L1588.2 803.4 L1589 802.7 L1589.8 802 L1590.6 801.3 L1591.5 800.8 L1592.5 800.5 L1592.5 800.5 L1592.5 825.9 M1593.5 796.5 L1593.8 866.6 L1594.3 866.6 L1594.3 866.2 L1594.3 864.4 L1594.3 860.8 L1594.4 855.1 L1594.5 848.2 L1594.6 842.4 L1594.7 836.5 L1594.8 830.3 L1595 824.3 L1595.2 819 L1595.4 815.3 L1595.6 812.4 L1595.9 810 L1596.2 807.9 L1596.6 806.3 L1596.9 805 L1597.3 803.9 L1597.8 802.9 L1598.3 802 L1598.8 801.1 L1599.4 800.1 L1600 799 L1600.6 797.9 L1601.3 796.8 L1602 796 L1602.7 795.2 L1603.5 794.5 L1604.4 793.9 L1605.3 793.3 L1606.2 793 L1606.2 793 L1606.2 818.9 M1607.2 789 L1607.5 859 L1608 859 L1608 858.6 L1608 856.9 L1608 853.3 L1608.1 847.7 L1608.2 840.9 L1608.3 835.1 L1608.4 829.2 L1608.5 822.9 L1608.7 816.8 L1608.9 811.5 L1609.1 807.8 L1609.4 805 L1609.6 802.5 L1610 800.5 L1610.3 798.8 L1610.7 797.5 L1611.1 796.4 L1611.6 795.4 L1612.1 794.6 L1612.6 793.6 L1613.2 792.6 L1613.8 791.5 L1614.4 790.4 L1615.1 789.4 L1615.9 788.5 L1616.7 787.7 L1617.5 787 L1618.3 786.4 L1619.2 785.8 L1620.2 785.5 L1620.2 785.5 L1620.2 811.7 M1621.2 781.5 L1621.5 851 L1622 851 L1622 850.6 L1622 848.9 L1622 845.4 L1622.1 839.9 L1622.2 833.1 L1622.3 827.4 L1622.4 821.4 L1622.5 815.1 L1622.7 808.9 L1622.9 803.6 L1623.1 799.8 L1623.3 797.1 L1623.6 794.6 L1623.9 792.5 L1624.3 790.9 L1624.7 789.6 L1625.1 788.5 L1625.6 787.5 L1626 786.6 L1626.6 785.7 L1627.1 784.7 L1627.7 783.5 L1628.4 782.4 L1629.1 781.4 L1629.8 780.5 L1630.6 779.7 L1631.4 779 L1632.3 778.3 L1633.2 777.8 L1634.1 777.5 L1634.1 777.5 L1634.1 803.5 M1635.1 773.5 L1635.4 842 L1635.9 842 L1635.9 841.6 L1635.9 839.9 L1635.9 836.3 L1636 830.8 L1636.1 824 L1636.2 818.2 L1636.3 812.2 L1636.4 805.9 L1636.6 799.6 L1636.8 794.2 L1637 790.5 L1637.3 787.7 L1637.6 785.2 L1637.9 783.1 L1638.2 781.5 L1638.6 780.2 L1639 779 L1639.5 778.1 L1640 777.2 L1640.5 776.3 L1641.1 775.2 L1641.7 774.1 L1642.4 773 L1643.1 771.9 L1643.8 771 L1644.6 770.3 L1645.5 769.5 L1646.3 768.9 L1647.2 768.3 L1648.2 768 L1648.2 768 L1648.2 794.1 M1649.3 764 L1649.5 832.4 L1650 832.4 L1650 832 L1650 830.2 L1650 826.6 L1650.1 821 L1650.2 814 L1650.2 808.2 L1650.4 802.1 L1650.5 795.6 L1650.7 789.2 L1650.8 783.7 L1651.1 779.9 L1651.3 777.1 L1651.6 774.5 L1651.9 772.4 L1652.2 770.8 L1652.6 769.4 L1653 768.3 L1653.5 767.3 L1653.9 766.3 L1654.5 765.4 L1655 764.3 L1655.6 763.2 L1656.2 762.1 L1656.9 761 L1657.6 760.1 L1658.4 759.3 L1659.2 758.6 L1660 757.9 L1660.9 757.3 L1661.8 757 L1661.8 757 L1661.8 782.9 M1662.9 753 L1663.1 820.6 L1663.6 820.6 L1663.6 820.2 L1663.6 818.4 L1663.6 814.7 L1663.7 808.8 L1663.8 801.7 L1663.8 795.7 L1664 789.4 L1664.1 782.7 L1664.3 776.2 L1664.4 770.5 L1664.7 766.6 L1664.9 763.6 L1665.2 761 L1665.5 758.9 L1665.8 757.2 L1666.2 755.8 L1666.6 754.6 L1667.1 753.6 L1667.5 752.6 L1668.1 751.7 L1668.6 750.6 L1669.2 749.4 L1669.8 748.2 L1670.5 747.1 L1671.2 746.2 L1672 745.4 L1672.8 744.6 L1673.6 743.9 L1674.5 743.3 L1675.4 743 L1675.4 743 L1675.4 768.8 M1676.5 739 L1676.7 806 L1677.2 806 L1677.2 805.6 L1677.2 803.6 L1677.2 799.6 L1677.3 793.4 L1677.4 785.8 L1677.4 779.3 L1677.5 772.6 L1677.7 765.5 L1677.8 758.5 L1678 752.4 L1678.2 748.2 L1678.4 745.1 L1678.7 742.3 L1679 740 L1679.3 738.1 L1679.7 736.7 L1680.1 735.4 L1680.5 734.3 L1680.9 733.3 L1681.4 732.3 L1682 731.1 L1682.5 729.8 L1683.1 728.6 L1683.8 727.4 L1684.4 726.4 L1685.1 725.5 L1685.9 724.7 L1686.7 724 L1687.5 723.4 L1688.4 723 L1688.4 723 L1688.4 749.9 M1689.5 719 L1689.7 788.2 L1690.2 788.2 L1691.6 740 L1691.9 715 L1694 710.5 L1696.7 708 L1697.3 703.2 L1700 696 L1701.6 688 L1702.4 688 L1702.4 715.5 M1703.6 684 L1703.7 754.2 L1704.2 754.2 L1704.3 700 L1704.6 681.7 L1708.1 670 L1711.6 658.3 L1715 647.5 L1715.8 646 L1715.8 666 M1717 642 L1717.1 694 L1717.6 694 L1717.7 640 L1719.5 625 L1721.5 607 L1724 580 L1727 562 L1729.5 551.5 L1731 551" fill="none" stroke="#000" stroke-width="4.9" stroke-linejoin="round" stroke-linecap="round"/>
<path d="M1716.2 213 L1716.2 245" fill="none" stroke="#000" stroke-width="3.9" stroke-linejoin="round" stroke-linecap="round"/>
<path d="M349.6 1045.2 L350.2 995.4 L350.5 995.4 L354 1053.5 M382.1 1034.8 L382.7 970.6 L383.1 970.6 L386.5 1048.4 M417.5 1026 L418.1 949.7 L418.5 949.7 L421.8 1044.5 M454.6 1017.9 L455.2 930.5 L455.6 930.5 L458.9 1039.8 M492.5 1010.7 L493.1 916.4 L493.5 916.4 L496.8 1035.6 M530.9 1004.4 L531.5 902.8 L531.9 902.8 L535.2 1031.5 M569.6 999.2 L570.2 893 L570.6 893 L573.8 1027.7 M608 994.4 L608.5 883.2 L609 883.2 L612.1 1024.2 M645.5 989.6 L646 874.9 L646.5 874.9 L649.6 1020.4 M682.5 985.1 L683.1 868.4 L683.5 868.4 L686.6 1016.9 M718.7 980.9 L719.3 861.4 L719.7 861.4 L722.8 1013.5 M753.7 977.2 L754.2 854.4 L754.8 854.4 L757.7 1010.3 M787.7 973.4 L788.2 847.6 L788.8 847.6 L791.6 1007 M821 969.8 L821.5 841.9 L822 841.9 L824.8 1004 M853.5 966.1 L854 836.4 L854.5 836.4 L857.2 1001 M884.5 963 L885 830.6 L885.5 830.6 L888.2 998 M914.8 959.2 L915.2 825.1 L915.8 825.1 L918.4 995 M943.8 956 L944.2 820.6 L944.8 820.6 L947.3 992 M972.5 952.3 L972.9 815.6 L973.6 815.6 L976 988.8 M1000.5 948.8 L1000.9 809.4 L1001.6 809.4 L1003.9 986.2 M1027.3 945.2 L1027.7 803.9 L1028.3 803.9 L1030.5 983.8 M1053.5 942 L1053.9 800.1 L1054.6 800.1 L1056.7 980.5 M1078.8 938.6 L1079.1 795.1 L1079.9 795.1 L1081.9 977.5 M1103.5 934.8 L1103.8 790.6 L1104.6 790.6 L1106.5 974.5 M1127.2 930.7 L1127.5 786.7 L1128.3 786.7 L1130.2 971.5 M1150.9 927.7 L1151.2 781 L1152 781 L1153.8 968.5 M1173.7 924.7 L1174 778.6 L1174.8 778.6 L1176.5 965.7 M1195.9 921.6 L1196.2 772.5 L1197 772.5 L1198.6 962.8 M1217.8 918.1 L1218.1 767.5 L1218.9 767.5 L1220.5 959.6 M1238.8 914.4 L1239.1 763 L1239.9 763 L1241.4 956.4 M1259.2 910.8 L1259.5 757.6 L1260.3 757.6 L1261.7 953 M1279.3 907 L1279.5 751.6 L1280.5 751.6 L1281.7 949.5 M1298.8 903.5 L1299 746.2 L1300 746.2 L1301.2 946.5 M1318.4 899 L1318.5 740.5 L1319.5 740.5 L1320.6 943.5 M1337 895.5 L1337.1 732.7 L1338.1 732.7 L1339.1 939.9 M1355.3 891.8 L1355.4 727.6 L1356.4 727.6 L1357.3 936.6 M1373.4 888.3 L1373.4 721 L1374.4 721 L1375.2 933 M1391.1 884.3 L1391.1 714.7 L1392.1 714.7 L1392.9 929.4 M1408.5 880.9 L1408.5 708.7 L1409.5 708.7 L1410.2 925.5 M1425.6 877.4 L1425.6 702.1 L1426.6 702.1 L1427.2 921.9 M1442.1 873.3 L1442.1 695.5 L1443.1 695.5 L1443.7 918 M1458.1 869 L1457.9 688 L1459.1 688 L1459.6 913.3 M1474 864.9 L1473.8 680.6 L1475 680.6 L1475.5 909 M1489.3 860.8 L1489.1 672.5 L1490.3 672.5 L1490.8 905 M1505 856.3 L1504.7 664.8 L1505.9 664.8 L1506.4 899.5 M1520.1 851.8 L1519.8 656.5 L1521 656.5 L1521.5 894.5 M1535 847.6 L1534.7 647.8 L1535.9 647.8 L1536.4 889.5 M1549.4 843.4 L1549.1 638.1 L1550.3 638.1 L1550.8 884.5 M1564.2 838.7 L1563.8 627 L1565 627 L1565.5 879 M1578.5 832.5 L1578.1 615 L1579.3 615 L1579.8 873 M1592.5 825.9 L1592 600.8 L1593.4 600.8 L1593.8 866.6 M1606.2 818.9 L1605.8 582.5 L1607.1 582.5 L1607.5 859 M1620.2 811.7 L1619.8 563.4 L1621.1 563.4 L1621.5 851 M1634.1 803.5 L1633.6 542.8 L1635 542.8 L1635.4 842 M1648.2 794.1 L1647.8 519.1 L1649.1 519.1 L1649.5 832.4 M1661.8 782.9 L1661.3 488.1 L1662.7 488.1 L1663.1 820.6 M1675.4 768.8 L1674.9 449.7 L1676.2 449.7 L1676.7 806 M1688.4 749.9 L1687.9 395.7 L1689.2 395.7 L1689.7 788.2 M1702.4 715.5 L1702 130 L1703.2 130 L1703.7 754.2 M1715.8 666 L1715.4 130 L1716.6 130 L1717.1 694 M1731 551 L1731.4 520 L1731.6 366" fill="none" stroke="#000" stroke-width="2.1" stroke-linejoin="round"/>
<path d="M350.4 995.4 L354 1053.5 M382.9 970.6 L386.5 1048.4 M418.3 949.7 L421.8 1044.5 M455.4 930.5 L458.9 1039.8 M493.3 916.4 L496.8 1035.6 M531.7 902.8 L535.2 1031.5 M570.4 893 L573.8 1027.7 M608.8 883.2 L612.1 1024.2 M646.2 874.9 L649.6 1020.4" fill="none" stroke="#000" stroke-width="4.6" stroke-linecap="round" stroke-dasharray="0 3.3"/>
<path d="M683.3 868.4 L686.6 1016.9 M719.5 861.4 L722.8 1013.5 M754.5 854.4 L757.7 1010.3 M788.5 847.6 L791.6 1007 M821.8 841.9 L824.8 1004 M854.2 836.4 L857.2 1001 M885.2 830.6 L888.2 998 M915.5 825.1 L918.4 995 M944.5 820.6 L947.3 992 M973.2 815.6 L976 988.8 M1001.2 809.4 L1003.9 986.2 M1028 803.9 L1030.5 983.8 M1054.2 800.1 L1056.7 980.5 M1079.5 795.1 L1081.9 977.5 M1104.2 790.6 L1106.5 974.5 M1127.9 786.7 L1130.2 971.5 M1151.6 781 L1153.8 968.5 M1174.4 778.6 L1176.5 965.7 M1196.6 772.5 L1198.6 962.8 M1218.5 767.5 L1220.5 959.6 M1239.5 763 L1241.4 956.4" fill="none" stroke="#000" stroke-width="4.6" stroke-linecap="round" stroke-dasharray="0 5.0"/>
<path d="M1259.9 757.6 L1261.7 953 M1280 751.6 L1281.7 949.5 M1299.5 746.2 L1301.2 946.5 M1319 740.5 L1320.6 943.5 M1337.6 732.7 L1339.1 939.9 M1355.9 727.6 L1357.3 936.6 M1373.9 721 L1375.2 933 M1391.6 714.7 L1392.9 929.4 M1409 708.7 L1410.2 925.5 M1426.1 702.1 L1427.2 921.9 M1442.6 695.5 L1443.7 918 M1458.5 688 L1459.6 913.3 M1474.4 680.6 L1475.5 909 M1489.7 672.5 L1490.8 905 M1505.3 664.8 L1506.4 899.5" fill="none" stroke="#000" stroke-width="4.6" stroke-linecap="round" stroke-dasharray="0 6.5"/>
<path d="M1520.4 656.5 L1521.5 894.5 M1535.3 647.8 L1536.4 889.5 M1549.7 638.1 L1550.8 884.5 M1564.4 627 L1565.5 879 M1578.7 615 L1579.8 873 M1592.7 600.8 L1593.8 866.6 M1606.4 582.5 L1607.5 859 M1620.4 563.4 L1621.5 851 M1634.3 542.8 L1635.4 842 M1648.4 519.1 L1649.5 832.4 M1662 488.1 L1663.1 820.6 M1675.6 449.7 L1676.7 806 M1688.6 395.7 L1689.7 788.2" fill="none" stroke="#000" stroke-width="4.6" stroke-linecap="round" stroke-dasharray="0 8.5"/>
<path d="M1702.9 322 L1703.7 754.2 M1716.1 201 L1716.1 202 M1716.2 251 L1717.1 694" fill="none" stroke="#000" stroke-width="4.6" stroke-linecap="round" stroke-dasharray="0 10.0"/>
<path d="M1732.2 365.5 L1732.2 376.5" fill="none" stroke="#000" stroke-width="2.2"/>
<g fill="#000">
<circle cx="1731.8" cy="392" r="1.9"/>
<circle cx="1731.8" cy="416" r="1.9"/>
<circle cx="1731.8" cy="440" r="1.9"/>
<circle cx="1731.8" cy="464" r="1.9"/>
<circle cx="1731.8" cy="488" r="1.9"/>
<circle cx="1731.8" cy="512" r="1.9"/>
<circle cx="1731.8" cy="536" r="1.9"/>
</g>
<rect x="1685.95" y="144" width="4.1" height="924" fill="#0000ff"/>
<rect x="1727.95" y="144" width="4.1" height="924" fill="#0000ff"/>
<rect x="250" y="463.90" width="1550" height="2.1" fill="#ffa500"/>
<rect x="250" y="605.90" width="1550" height="2.1" fill="#ffa500"/>
</g>
<g font-size="16.67" letter-spacing="-0.35">
<text transform="translate(505.2 920.1) rotate(-80)">n=1</text>
<text transform="translate(543.6 906.6) rotate(-80)">n=2</text>
<text transform="translate(582.3 896.8) rotate(-80)">n=3</text>
<text transform="translate(620.6 887.0) rotate(-80)">n=4</text>
<text transform="translate(658.1 878.7) rotate(-80)">n=5</text>
<text transform="translate(695.2 872.2) rotate(-80)">n=6</text>
<text transform="translate(731.4 865.1) rotate(-80)">n=7</text>
<text transform="translate(766.4 858.1) rotate(-80)">n=8</text>
<text transform="translate(800.4 851.4) rotate(-80)">n=9</text>
<text transform="translate(833.6 845.6) rotate(-80)">n=10</text>
<text transform="translate(866.1 840.1) rotate(-80)">n=11</text>
<text transform="translate(897.1 834.4) rotate(-80)">n=12</text>
<text transform="translate(927.4 828.9) rotate(-80)">n=13</text>
<text transform="translate(956.4 824.4) rotate(-80)">n=14</text>
<text transform="translate(985.1 819.4) rotate(-80)">n=15</text>
<text transform="translate(1013.1 813.1) rotate(-80)">n=16</text>
<text transform="translate(1039.9 807.6) rotate(-80)">n=17</text>
<text transform="translate(1066.2 803.9) rotate(-80)">n=18</text>
<text transform="translate(1091.4 798.9) rotate(-80)">n=19</text>
<text transform="translate(1116.1 794.4) rotate(-80)">n=20</text>
<text transform="translate(1139.8 790.5) rotate(-80)">n=21</text>
<text transform="translate(1163.5 784.8) rotate(-80)">n=22</text>
<text transform="translate(1186.3 782.4) rotate(-80)">n=23</text>
<text transform="translate(1208.5 776.3) rotate(-80)">n=24</text>
<text transform="translate(1230.4 771.3) rotate(-80)">n=25</text>
<text transform="translate(1251.4 766.8) rotate(-80)">n=26</text>
<text transform="translate(1271.8 761.4) rotate(-80)">n=27</text>
<text transform="translate(1291.9 755.4) rotate(-80)">n=28</text>
<text transform="translate(1311.4 750.0) rotate(-80)">n=29</text>
<text transform="translate(1330.9 744.3) rotate(-80)">n=30</text>
<text transform="translate(1349.5 736.5) rotate(-80)">n=31</text>
<text transform="translate(1367.8 731.4) rotate(-80)">n=32</text>
<text transform="translate(1385.8 724.8) rotate(-80)">n=33</text>
<text transform="translate(1403.5 718.5) rotate(-80)">n=34</text>
<text transform="translate(1420.9 712.5) rotate(-80)">n=35</text>
<text transform="translate(1438.0 705.9) rotate(-80)">n=36</text>
<text transform="translate(1454.5 699.3) rotate(-80)">n=37</text>
<text transform="translate(1470.4 691.8) rotate(-80)">n=38</text>
<text transform="translate(1486.3 684.4) rotate(-80)">n=39</text>
<text transform="translate(1501.6 676.3) rotate(-80)">n=40</text>
<text transform="translate(1517.2 668.6) rotate(-80)">n=41</text>
<text transform="translate(1532.3 660.3) rotate(-80)">n=42</text>
<text transform="translate(1547.2 651.6) rotate(-80)">n=43</text>
<text transform="translate(1561.6 641.9) rotate(-80)">n=44</text>
<text transform="translate(1576.3 630.8) rotate(-80)">n=45</text>
<text transform="translate(1590.6 618.8) rotate(-80)">n=46</text>
<text transform="translate(1604.6 604.6) rotate(-80)">n=47</text>
<text transform="translate(1618.3 586.3) rotate(-80)">n=48</text>
<text transform="translate(1632.3 567.2) rotate(-80)">n=49</text>
<text transform="translate(1646.2 546.6) rotate(-80)">n=50</text>
<text transform="translate(1660.3 522.9) rotate(-80)">n=51</text>
<text transform="translate(1673.9 491.9) rotate(-80)">n=52</text>
<text transform="translate(1687.5 453.5) rotate(-80)">n=53</text>
<text transform="translate(1700.5 399.5) rotate(-80)">n=54</text>
</g>
<rect x="250" y="700.90" width="1550" height="4.1" fill="#008000"/>
<g clip-path="url(#ax)">
<g fill="#ffff00" fill-opacity="0.2" stroke="#ffff00" stroke-opacity="0.2" stroke-width="1.4">
<circle cx="1715.1" cy="550.4" r="6.9"/>
<circle cx="1715.1" cy="559.2" r="6.9"/>
<circle cx="1715.1" cy="568.5" r="6.9"/>
<circle cx="1715.1" cy="577.8" r="6.9"/>
<circle cx="1715.1" cy="587.2" r="6.9"/>
<circle cx="1715.1" cy="596.5" r="6.9"/>
<circle cx="1703.0" cy="629.2" r="6.9"/>
<circle cx="1703.0" cy="642.6" r="6.9"/>
<circle cx="1702.4" cy="656.0" r="6.9"/>
<circle cx="1701.5" cy="668.8" r="6.9"/>
<circle cx="1689.0" cy="679.3" r="6.9"/>
<circle cx="1687.8" cy="696.8" r="6.9"/>
<circle cx="1687.4" cy="702.7" r="6.9"/>
<circle cx="1730.3" cy="599.0" r="6.9"/>
<circle cx="1730.3" cy="601.0" r="6.9"/>
<circle cx="1730.3" cy="603.0" r="6.9"/>
<circle cx="1730.3" cy="605.0" r="6.9"/>
<circle cx="1730.3" cy="607.0" r="6.9"/>
<circle cx="1730.3" cy="609.0" r="6.9"/>
<circle cx="1730.3" cy="611.0" r="6.9"/>
<circle cx="1730.3" cy="613.0" r="6.9"/>
<circle cx="1730.3" cy="616.5" r="6.9"/>
<circle cx="1730.3" cy="620.0" r="6.9"/>
<circle cx="1730.3" cy="623.5" r="6.9"/>
<circle cx="1730.3" cy="627.0" r="6.9"/>
<circle cx="1730.3" cy="630.5" r="6.9"/>
<circle cx="1717.5" cy="701.4" r="6.9"/>
<circle cx="1717.5" cy="700.0" r="6.9"/>
<circle cx="1717.5" cy="698.5" r="6.9"/>
</g>
<g stroke="#ffff00" stroke-width="15.2" stroke-linecap="round" stroke-linejoin="round" fill="none">
<path d="M1697.3 703.2 L1704.6 681.7 L1708.1 670 L1711.6 658.3 L1715.7 646.7"/>
<path d="M1702.2 703.2 L1702.6 690"/>
<path d="M1717.5 696 L1717.7 640 L1719.5 625 L1721.5 607 L1724 580 L1727 562 L1729.5 551.5"/>
<path d="M1730.3 551.5 L1730.3 599"/>
</g>
</g>
<rect x="250.5" y="144.5" width="1550" height="924" fill="none" stroke="#000" stroke-width="1.1"/>
<g stroke="#000" stroke-width="5.8">
<line x1="254.20" y1="1068" x2="254.20" y2="1084.7"/>
<line x1="458.60" y1="1068" x2="458.60" y2="1084.7"/>
<line x1="663.00" y1="1068" x2="663.00" y2="1084.7"/>
<line x1="867.40" y1="1068" x2="867.40" y2="1084.7"/>
<line x1="1071.80" y1="1068" x2="1071.80" y2="1084.7"/>
<line x1="1276.20" y1="1068" x2="1276.20" y2="1084.7"/>
<line x1="1480.60" y1="1068" x2="1480.60" y2="1084.7"/>
<line x1="1685.00" y1="1068" x2="1685.00" y2="1084.7"/>
<line x1="295.08" y1="1068" x2="295.08" y2="1078.8"/>
<line x1="335.96" y1="1068" x2="335.96" y2="1078.8"/>
<line x1="376.84" y1="1068" x2="376.84" y2="1078.8"/>
<line x1="417.72" y1="1068" x2="417.72" y2="1078.8"/>
<line x1="499.48" y1="1068" x2="499.48" y2="1078.8"/>
<line x1="540.36" y1="1068" x2="540.36" y2="1078.8"/>
<line x1="581.24" y1="1068" x2="581.24" y2="1078.8"/>
<line x1="622.12" y1="1068" x2="622.12" y2="1078.8"/>
<line x1="703.88" y1="1068" x2="703.88" y2="1078.8"/>
<line x1="744.76" y1="1068" x2="744.76" y2="1078.8"/>
<line x1="785.64" y1="1068" x2="785.64" y2="1078.8"/>
<line x1="826.52" y1="1068" x2="826.52" y2="1078.8"/>
<line x1="908.28" y1="1068" x2="908.28" y2="1078.8"/>
<line x1="949.16" y1="1068" x2="949.16" y2="1078.8"/>
<line x1="990.04" y1="1068" x2="990.04" y2="1078.8"/>
<line x1="1030.92" y1="1068" x2="1030.92" y2="1078.8"/>
<line x1="1112.68" y1="1068" x2="1112.68" y2="1078.8"/>
<line x1="1153.56" y1="1068" x2="1153.56" y2="1078.8"/>
<line x1="1194.44" y1="1068" x2="1194.44" y2="1078.8"/>
<line x1="1235.32" y1="1068" x2="1235.32" y2="1078.8"/>
<line x1="1317.08" y1="1068" x2="1317.08" y2="1078.8"/>
<line x1="1357.96" y1="1068" x2="1357.96" y2="1078.8"/>
<line x1="1398.84" y1="1068" x2="1398.84" y2="1078.8"/>
<line x1="1439.72" y1="1068" x2="1439.72" y2="1078.8"/>
<line x1="1521.48" y1="1068" x2="1521.48" y2="1078.8"/>
<line x1="1562.36" y1="1068" x2="1562.36" y2="1078.8"/>
<line x1="1603.24" y1="1068" x2="1603.24" y2="1078.8"/>
<line x1="1644.12" y1="1068" x2="1644.12" y2="1078.8"/>
<line x1="1725.88" y1="1068" x2="1725.88" y2="1078.8"/>
<line x1="1766.76" y1="1068" x2="1766.76" y2="1078.8"/>
<line x1="250" y1="1002.00" x2="233.3" y2="1002.00"/>
<line x1="250" y1="884.41" x2="233.3" y2="884.41"/>
<line x1="250" y1="766.82" x2="233.3" y2="766.82"/>
<line x1="250" y1="649.23" x2="233.3" y2="649.23"/>
<line x1="250" y1="531.64" x2="233.3" y2="531.64"/>
<line x1="250" y1="414.05" x2="233.3" y2="414.05"/>
<line x1="250" y1="296.46" x2="233.3" y2="296.46"/>
<line x1="250" y1="178.87" x2="233.3" y2="178.87"/>
<line x1="250" y1="1049.04" x2="239" y2="1049.04"/>
<line x1="250" y1="1025.52" x2="239" y2="1025.52"/>
<line x1="250" y1="978.48" x2="239" y2="978.48"/>
<line x1="250" y1="954.96" x2="239" y2="954.96"/>
<line x1="250" y1="931.45" x2="239" y2="931.45"/>
<line x1="250" y1="907.93" x2="239" y2="907.93"/>
<line x1="250" y1="860.89" x2="239" y2="860.89"/>
<line x1="250" y1="837.37" x2="239" y2="837.37"/>
<line x1="250" y1="813.86" x2="239" y2="813.86"/>
<line x1="250" y1="790.34" x2="239" y2="790.34"/>
<line x1="250" y1="743.30" x2="239" y2="743.30"/>
<line x1="250" y1="719.78" x2="239" y2="719.78"/>
<line x1="250" y1="696.27" x2="239" y2="696.27"/>
<line x1="250" y1="672.75" x2="239" y2="672.75"/>
<line x1="250" y1="625.71" x2="239" y2="625.71"/>
<line x1="250" y1="602.19" x2="239" y2="602.19"/>
<line x1="250" y1="578.68" x2="239" y2="578.68"/>
<line x1="250" y1="555.16" x2="239" y2="555.16"/>
<line x1="250" y1="508.12" x2="239" y2="508.12"/>
<line x1="250" y1="484.60" x2="239" y2="484.60"/>
<line x1="250" y1="461.09" x2="239" y2="461.09"/>
<line x1="250" y1="437.57" x2="239" y2="437.57"/>
<line x1="250" y1="390.53" x2="239" y2="390.53"/>
<line x1="250" y1="367.01" x2="239" y2="367.01"/>
<line x1="250" y1="343.50" x2="239" y2="343.50"/>
<line x1="250" y1="319.98" x2="239" y2="319.98"/>
<line x1="250" y1="272.94" x2="239" y2="272.94"/>
<line x1="250" y1="249.42" x2="239" y2="249.42"/>
<line x1="250" y1="225.91" x2="239" y2="225.91"/>
<line x1="250" y1="202.39" x2="239" y2="202.39"/>
<line x1="250" y1="155.35" x2="239" y2="155.35"/>
</g>
<g font-size="36.11">
<text x="254.2" y="1117" text-anchor="middle">200.1</text>
<text x="458.6" y="1117" text-anchor="middle">200.2</text>
<text x="663.0" y="1117" text-anchor="middle">200.3</text>
<text x="867.4" y="1117" text-anchor="middle">200.4</text>
<text x="1071.8" y="1117" text-anchor="middle">200.5</text>
<text x="1276.2" y="1117" text-anchor="middle">200.6</text>
<text x="1480.6" y="1117" text-anchor="middle">200.7</text>
<text x="1685.0" y="1117" text-anchor="middle">200.8</text>
<text x="228.4" y="1016.1" text-anchor="end">100</text>
<text x="228.4" y="898.5" text-anchor="end">200</text>
<text x="228.4" y="780.9" text-anchor="end">300</text>
<text x="228.4" y="663.3" text-anchor="end">400</text>
<text x="228.4" y="545.7" text-anchor="end">500</text>
<text x="228.4" y="428.2" text-anchor="end">600</text>
<text x="228.4" y="310.6" text-anchor="end">700</text>
<text x="228.4" y="193.0" text-anchor="end">800</text>
</g>
<text x="1025" y="1171.4" font-size="55.56" text-anchor="middle">Age (Myr)</text>
<text transform="translate(140.5 607.3) rotate(-90)" font-size="55.56" text-anchor="middle">O1 period (days)</text>
<rect x="263.5" y="157.5" width="535" height="217.5" rx="5" ry="5" fill="#fff" fill-opacity="0.8" stroke="#ccc" stroke-width="1.4"/>
<line x1="273" y1="177.1" x2="323" y2="177.1" stroke="#000" stroke-width="2.08" stroke-linecap="square"/>
<circle cx="298.5" cy="177.3" r="2.3" fill="#000"/>
<line x1="273" y1="214.3" x2="322.6" y2="214.3" stroke="#0000ff" stroke-width="4.17" stroke-linecap="square"/>
<line x1="273" y1="251" x2="322.6" y2="251" stroke="#008000" stroke-width="4.17" stroke-linecap="square"/>
<line x1="272.8" y1="287.1" x2="323.2" y2="287.1" stroke="#ffa500" stroke-width="2.08" stroke-linecap="square"/>
<circle cx="298.6" cy="340.4" r="6.9" fill="#ffff00" fill-opacity="0.2" stroke="#ffff00" stroke-opacity="0.2" stroke-width="1.4"/>
<g font-size="25">
<text x="343" y="186.3">m3.60_z0.0030_y0.255</text>
<text x="343" y="223">peak detector horizontal bounds</text>
<text x="343" y="259.8">min. P consistent with observations</text>
<text x="343" y="296">max. P must fall within this span</text>
<text x="343" y="333.2">intersection w/ P,L,T,R</text>
<text x="343" y="360.2">loosely defined</text>
</g>
</svg>
</body></html>
